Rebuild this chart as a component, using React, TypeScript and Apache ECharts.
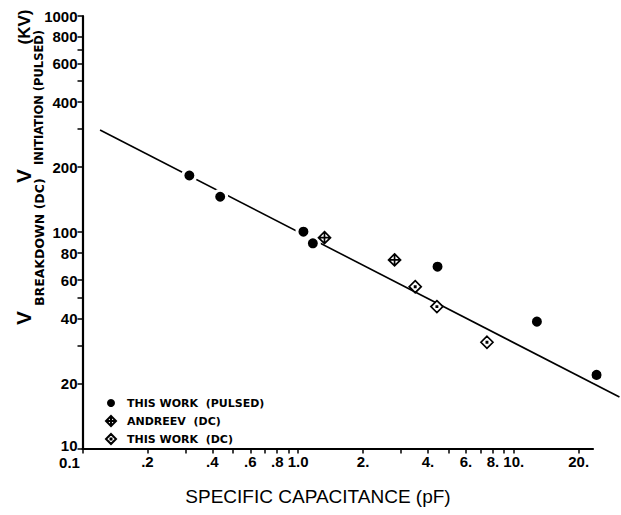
import React, { useEffect, useRef } from 'react';
import * as echarts from 'echarts';

const xTickValues = [0.1, 0.2, 0.4, 0.6, 0.8, 1, 2, 4, 6, 8, 10, 20];
const xTickLabels = ['0.1', '.2', '.4', '.6', '.8', '1.0', '2.', '4.', '6.', '8.', '10.', '20.'];
const xMinorTicks = [0.3, 0.5, 0.7, 0.9, 3, 5, 7, 9];
const yTickValues = [10, 20, 40, 60, 80, 100, 200, 400, 600, 800, 1000];
const yTickLabels = ['10', '20', '40', '60', '80', '100', '200', '400', '600', '800', '1000'];
const yMinorTicks = [30, 50, 300, 500, 700];

const pulsedX = [0.313, 0.435, 1.058, 1.17, 4.43, 12.8, 24.2];
const pulsedY = [183, 146, 100.6, 88.9, 69.3, 38.6, 21.9];
const andreevX = [1.325, 2.8];
const andreevY = [94.4, 74.5];
const dcX = [3.49, 4.4, 7.51];
const dcY = [56.0, 45.3, 31.0];
const fitX = [0.1206, 30.9];
const fitY = [297, 17.3];

const seriesNames = ['THIS WORK  (PULSED)', 'ANDREEV  (DC)', 'THIS WORK  (DC)'];

const andreevSymbol = 'path://M0,-6L6,0L0,6L-6,0Z M0,-6L0,6 M-6,0L6,0';
const dcSymbol = 'path://M0,-6L6,0L0,6L-6,0Z M-0.6,-0.6L0.6,-0.6L0.6,0.6L-0.6,0.6Z';

function zip(xs: number[], ys: number[]) {
  return xs.map((x, i) => [x, ys[i]]);
}

function findLabel(values: number[], labels: string[], v: number) {
  for (let i = 0; i < values.length; i++) {
    if (Math.abs(values[i] - v) / values[i] < 1e-4) return labels[i];
  }
  return '';
}

export default function App() {
  const ref = useRef<HTMLDivElement>(null);
  useEffect(() => {
    if (!ref.current) return;
    const chart = echarts.init(ref.current, undefined, { renderer: 'svg' });
    const labelFont = {
      fontFamily: 'Liberation Sans',
      fontWeight: 'bold' as const,
      fontSize: 15,
      color: '#000',
    };
    chart.setOption({
      animation: false,
      backgroundColor: '#fff',
      grid: { left: 82.5, right: 28, top: 16, bottom: 66.5, containLabel: false },
      xAxis: {
        type: 'log',
        min: 0.1,
        max: 23.3,
        axisLine: { show: true, lineStyle: { color: '#000', width: 2.2 } },
        axisTick: {
          show: true,
          length: 5,
          inside: false,
          customValues: [...xTickValues, ...xMinorTicks].sort((a, b) => a - b),
          lineStyle: { color: '#000', width: 1.5 },
        },
        minorTick: { show: false },
        splitLine: { show: false },
        axisLabel: {
          ...labelFont,
          margin: 5,
          customValues: xTickValues,
          formatter: (v: number) => {
            const s = findLabel(xTickValues, xTickLabels, v);
            return s === '0.1' ? '{o|0.1}' : s;
          },
          rich: {
            o: { ...labelFont, lineHeight: 12, padding: [5, 26, 0, 0] },
          },
        },
      },
      yAxis: {
        type: 'log',
        min: 10,
        max: 1000,
        axisLine: { show: true, lineStyle: { color: '#000', width: 2.2 } },
        axisTick: {
          show: true,
          length: 5,
          inside: false,
          customValues: [...yTickValues, ...yMinorTicks].sort((a, b) => a - b),
          lineStyle: { color: '#000', width: 1.5 },
        },
        minorTick: { show: false },
        splitLine: { show: false },
        axisLabel: {
          ...labelFont,
          margin: 5,
          customValues: yTickValues,
          formatter: (v: number) => {
            const s = findLabel(yTickValues, yTickLabels, v);
            return s === '10' ? '{t|10}' : s;
          },
          rich: {
            t: { ...labelFont, lineHeight: 12, padding: [0, 0, 6, 0] },
          },
        },
      },
      legend: {
        data: seriesNames,
        orient: 'vertical',
        left: 100,
        top: 392,
        itemWidth: 10,
        itemHeight: 10,
        itemGap: 6,
        selectedMode: false,
        textStyle: {
          fontFamily: 'DejaVu Sans',
          fontWeight: 'bold',
          fontSize: 11,
          color: '#000',
          padding: [0, 0, 0, 6],
        },
      },
      series: [
        {
          type: 'custom',
          name: 'fit',
          coordinateSystem: 'cartesian2d',
          clip: false,
          z: 1,
          data: [[fitX[0], fitY[0], fitX[1], fitY[1]]],
          encode: { x: [0, 2], y: [1, 3] },
          renderItem: (params: any, api: any) => {
            const p1 = api.coord([api.value(0), api.value(1)]);
            const p2 = api.coord([api.value(2), api.value(3)]);
            return {
              type: 'line',
              shape: { x1: p1[0], y1: p1[1], x2: p2[0], y2: p2[1] },
              style: { stroke: '#000', lineWidth: 1.6, fill: null },
            };
          },
        },
        {
          type: 'scatter',
          name: seriesNames[0],
          data: zip(pulsedX, pulsedY),
          symbol: 'circle',
          symbolSize: 13,
          clip: false,
          z: 3,
          itemStyle: { color: '#000', borderColor: '#fff', borderWidth: 3, opacity: 1 },
        },
        {
          type: 'scatter',
          name: seriesNames[1],
          data: zip(andreevX, andreevY),
          symbol: andreevSymbol,
          symbolSize: 12,
          clip: false,
          z: 3,
          itemStyle: { color: '#fff', borderColor: '#000', borderWidth: 1.7, opacity: 1 },
        },
        {
          type: 'scatter',
          name: seriesNames[2],
          data: zip(dcX, dcY),
          symbol: dcSymbol,
          symbolSize: 12,
          clip: false,
          z: 3,
          itemStyle: { color: '#fff', borderColor: '#000', borderWidth: 1.7, opacity: 1 },
        },
      ],
      graphic: [
        {
          type: 'text',
          x: 318,
          y: 496,
          style: {
            text: 'SPECIFIC CAPACITANCE (pF)',
            font: '19px "Liberation Sans"',
            fill: '#000',
            align: 'center',
            verticalAlign: 'middle',
          },
        },
        {
          type: 'text',
          x: 24,
          y: 27,
          rotation: Math.PI / 2,
          style: {
            text: '(KV)',
            font: 'bold 17px "Liberation Sans"',
            fill: '#000',
            align: 'center',
            verticalAlign: 'middle',
          },
        },
        {
          type: 'text',
          x: 23,
          y: 176,
          rotation: Math.PI / 2,
          style: {
            text: 'V',
            font: 'bold 21px "Liberation Sans"',
            fill: '#000',
            align: 'center',
            verticalAlign: 'middle',
          },
        },
        {
          type: 'text',
          x: 39,
          y: 165,
          rotation: Math.PI / 2,
          style: {
            text: 'INITIATION (PULSED)',
            font: 'bold 11.5px "DejaVu Sans"',
            fill: '#000',
            align: 'left',
            verticalAlign: 'middle',
          },
        },
        {
          type: 'text',
          x: 23,
          y: 318,
          rotation: Math.PI / 2,
          style: {
            text: 'V',
            font: 'bold 21px "Liberation Sans"',
            fill: '#000',
            align: 'center',
            verticalAlign: 'middle',
          },
        },
        {
          type: 'text',
          x: 39,
          y: 306,
          rotation: Math.PI / 2,
          style: {
            text: 'BREAKDOWN (DC)',
            font: 'bold 12.5px "DejaVu Sans"',
            fill: '#000',
            align: 'left',
            verticalAlign: 'middle',
          },
        },
      ],
    });
    return () => chart.dispose();
  }, []);
  return (
    <div
      ref={ref}
      style={{ position: 'fixed', left: 0, top: 0, width: 621, height: 515 }}
    />
  );
}
